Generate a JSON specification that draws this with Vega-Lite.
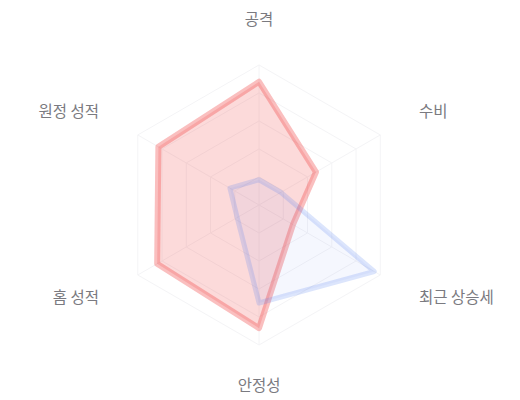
{
  "$schema": "https://vega.github.io/schema/vega-lite/v6.json",
  "width": 520,
  "height": 400,
  "padding": 0,
  "autosize": {"type": "fit", "contains": "padding"},
  "config": {"view": {"stroke": null}},
  "datasets": {
    "scores": [
      {"team": "팀 A", "idx": 0, "axis": "공격", "value": 88},
      {"team": "팀 A", "idx": 1, "axis": "수비", "value": 47},
      {"team": "팀 A", "idx": 2, "axis": "최근 상승세", "value": 28},
      {"team": "팀 A", "idx": 3, "axis": "안정성", "value": 88},
      {"team": "팀 A", "idx": 4, "axis": "홈 성적", "value": 84},
      {"team": "팀 A", "idx": 5, "axis": "원정 성적", "value": 83},
      {"team": "팀 B", "idx": 0, "axis": "공격", "value": 18},
      {"team": "팀 B", "idx": 1, "axis": "수비", "value": 18},
      {"team": "팀 B", "idx": 2, "axis": "최근 상승세", "value": 95},
      {"team": "팀 B", "idx": 3, "axis": "안정성", "value": 70},
      {"team": "팀 B", "idx": 4, "axis": "홈 성적", "value": 18},
      {"team": "팀 B", "idx": 5, "axis": "원정 성적", "value": 24}
    ],
    "axes": [
      {"idx": 0, "label": "공격"},
      {"idx": 1, "label": "수비"},
      {"idx": 2, "label": "최근 상승세"},
      {"idx": 3, "label": "안정성"},
      {"idx": 4, "label": "홈 성적"},
      {"idx": 5, "label": "원정 성적"}
    ],
    "grid": [
      {"level": 20, "idx": 0}, {"level": 20, "idx": 1}, {"level": 20, "idx": 2}, {"level": 20, "idx": 3}, {"level": 20, "idx": 4}, {"level": 20, "idx": 5},
      {"level": 40, "idx": 0}, {"level": 40, "idx": 1}, {"level": 40, "idx": 2}, {"level": 40, "idx": 3}, {"level": 40, "idx": 4}, {"level": 40, "idx": 5},
      {"level": 60, "idx": 0}, {"level": 60, "idx": 1}, {"level": 60, "idx": 2}, {"level": 60, "idx": 3}, {"level": 60, "idx": 4}, {"level": 60, "idx": 5},
      {"level": 80, "idx": 0}, {"level": 80, "idx": 1}, {"level": 80, "idx": 2}, {"level": 80, "idx": 3}, {"level": 80, "idx": 4}, {"level": 80, "idx": 5},
      {"level": 100, "idx": 0}, {"level": 100, "idx": 1}, {"level": 100, "idx": 2}, {"level": 100, "idx": 3}, {"level": 100, "idx": 4}, {"level": 100, "idx": 5}
    ]
  },
  "layer": [
    {
      "data": {"name": "grid"},
      "transform": [
        {"calculate": "datum.level * sin(datum.idx * PI / 3)", "as": "gx"},
        {"calculate": "datum.level * cos(datum.idx * PI / 3)", "as": "gy"}
      ],
      "mark": {"type": "line", "interpolate": "linear-closed", "stroke": "#f4f4f6", "strokeWidth": 1},
      "encoding": {
        "x": {"field": "gx", "type": "quantitative", "scale": {"domain": [-185, 186.4], "nice": false, "zero": false}, "axis": null},
        "y": {"field": "gy", "type": "quantitative", "scale": {"domain": [-139.3, 146.4], "nice": false, "zero": false}, "axis": null},
        "detail": {"field": "level"},
        "order": {"field": "idx"}
      }
    },
    {
      "data": {"name": "axes"},
      "transform": [
        {"calculate": "100 * sin(datum.idx * PI / 3)", "as": "ax"},
        {"calculate": "100 * cos(datum.idx * PI / 3)", "as": "ay"},
        {"calculate": "0", "as": "ox"}
      ],
      "mark": {"type": "rule", "stroke": "#f4f4f6", "strokeWidth": 1},
      "encoding": {
        "x": {"field": "ox", "type": "quantitative"},
        "y": {"field": "ox", "type": "quantitative"},
        "x2": {"field": "ax"},
        "y2": {"field": "ay"}
      }
    },
    {
      "data": {"name": "scores"},
      "transform": [
        {"filter": "datum.team == '팀 A'"},
        {"calculate": "datum.value * sin(datum.idx * PI / 3)", "as": "px"},
        {"calculate": "datum.value * cos(datum.idx * PI / 3)", "as": "py"}
      ],
      "mark": {"type": "line", "interpolate": "linear-closed", "stroke": "#ef4444", "strokeOpacity": 0.34, "strokeWidth": 6, "strokeJoin": "round", "fill": "#ef4444", "fillOpacity": 0.2},
      "encoding": {
        "x": {"field": "px", "type": "quantitative"},
        "y": {"field": "py", "type": "quantitative"},
        "order": {"field": "idx"}
      }
    },
    {
      "data": {"name": "scores"},
      "transform": [
        {"filter": "datum.team == '팀 B'"},
        {"calculate": "datum.value * sin(datum.idx * PI / 3)", "as": "px"},
        {"calculate": "datum.value * cos(datum.idx * PI / 3)", "as": "py"}
      ],
      "mark": {"type": "line", "interpolate": "linear-closed", "stroke": "#4f7cf0", "strokeOpacity": 0.2, "strokeWidth": 5, "strokeJoin": "round", "fill": "#4f7cf0", "fillOpacity": 0.06},
      "encoding": {
        "x": {"field": "px", "type": "quantitative"},
        "y": {"field": "py", "type": "quantitative"},
        "order": {"field": "idx"}
      }
    },
    {
      "data": {"name": "axes"},
      "transform": [
        {"calculate": "132 * sin(datum.idx * PI / 3)", "as": "lx"},
        {"calculate": "(datum.idx == 0 ? 132 : datum.idx == 3 ? 129 : 132.5) * cos(datum.idx * PI / 3)", "as": "ly"}
      ],
      "mark": {
        "type": "text",
        "font": "Noto Sans CJK KR",
        "fontSize": 15.5,
        "color": "#7a7a80",
        "baseline": "middle",
        "align": {"expr": "datum.idx == 1 || datum.idx == 2 ? 'left' : datum.idx == 4 || datum.idx == 5 ? 'right' : 'center'"}
      },
      "encoding": {
        "x": {"field": "lx", "type": "quantitative"},
        "y": {"field": "ly", "type": "quantitative"},
        "text": {"field": "label"}
      }
    }
  ]
}
